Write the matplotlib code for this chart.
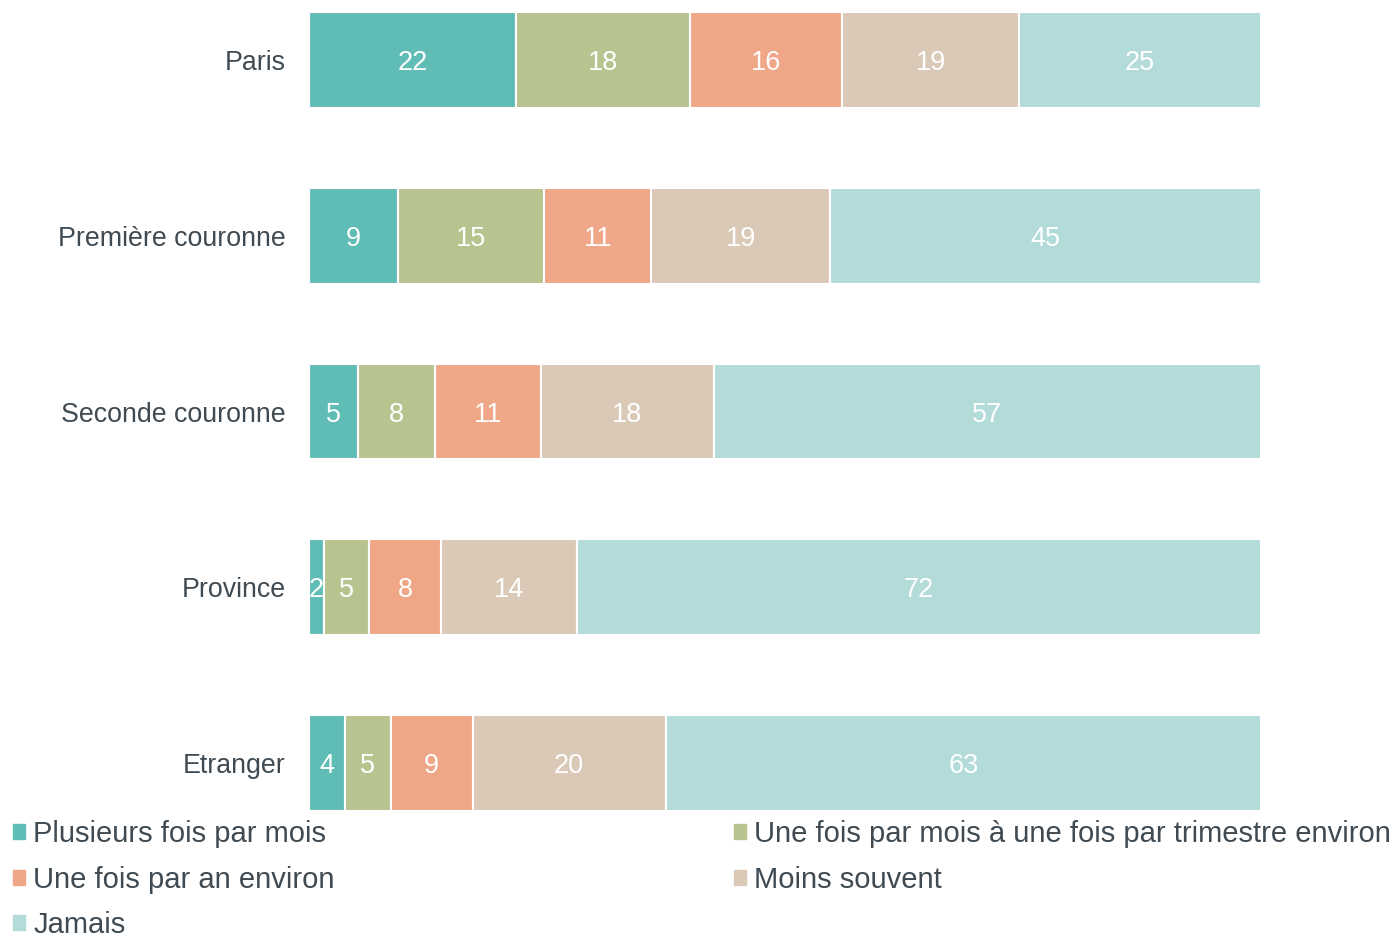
import numpy as np
import matplotlib.pyplot as plt
from matplotlib.patches import Patch

plt.rcParams['font.family'] = ['Liberation Sans', 'DejaVu Sans']

# donnees (pourcentages, etiquettes arrondies)
regions = ["Paris", "Première couronne", "Seconde couronne", "Province", "Etranger"]
series = ["Plusieurs fois par mois",
          "Une fois par mois à une fois par trimestre environ",
          "Une fois par an environ",
          "Moins souvent",
          "Jamais"]
plusieurs = [21.7, 9.3, 5.1, 1.6, 3.8]
mois_trim = [18.3, 15.4, 8.1, 4.7, 4.8]
par_an = [16.0, 11.2, 11.1, 7.6, 8.6]
moins = [18.6, 18.8, 18.2, 14.3, 20.3]
jamais = [25.4, 45.2, 57.4, 71.8, 62.6]

couleurs = ["#5fbdb5", "#b8c490", "#f0a787", "#dbc9b8", "#b2dbda"]
txt_col = "#3f4a52"

vals = np.array([plusieurs, mois_trim, par_an, moins, jamais], dtype=float)
parts = vals / vals.sum(axis=0) * 100  # barres a 100 %

fig = plt.figure(figsize=(13.98, 9.43), dpi=100)
ax = fig.add_axes([309 / 1398, 1 - 811 / 943, (1261 - 309) / 1398, 799 / 943])

y = np.arange(len(regions))
h = 96 / 176
left = np.zeros(len(regions))
handles = []
for i, nom in enumerate(series):
    bars = ax.barh(y, parts[i], left=left, height=h, color=couleurs[i],
                   edgecolor="white", linewidth=1.5, label=nom)
    for j, b in enumerate(bars):
        ax.text(left[j] + parts[i][j] / 2, y[j], "%.0f" % vals[i][j],
                ha="center", va="center_baseline", color="white", fontsize=19.5)
    handles.append(Patch(color=couleurs[i]))
    left += parts[i]

ax.set_xlim(0, 100)
ax.set_ylim(len(regions) - 1 + h / 2, -h / 2)
ax.set_yticks(y)
ax.set_yticklabels(regions, fontsize=19.3, color=txt_col, va="center_baseline")
ax.tick_params(axis="y", length=0, pad=17)
ax.set_xticks([])
for s in ax.spines.values():
    s.set_visible(False)

# legende en deux colonnes
kw = dict(fontsize=21, frameon=False, handlelength=0.42, handleheight=0.42,
          handletextpad=0.28, labelspacing=0.6, labelcolor=txt_col,
          loc="upper left", borderaxespad=0, borderpad=0)
leg1 = fig.legend([handles[0], handles[2], handles[4]],
                  [series[0], series[2], series[4]],
                  bbox_to_anchor=(13 / 1398, 1 - 820 / 943), **kw)
leg2 = fig.legend([handles[1], handles[3]], [series[1], series[3]],
                  bbox_to_anchor=(734 / 1398, 1 - 820 / 943), **kw)

fig.savefig("out.png", dpi=100)
